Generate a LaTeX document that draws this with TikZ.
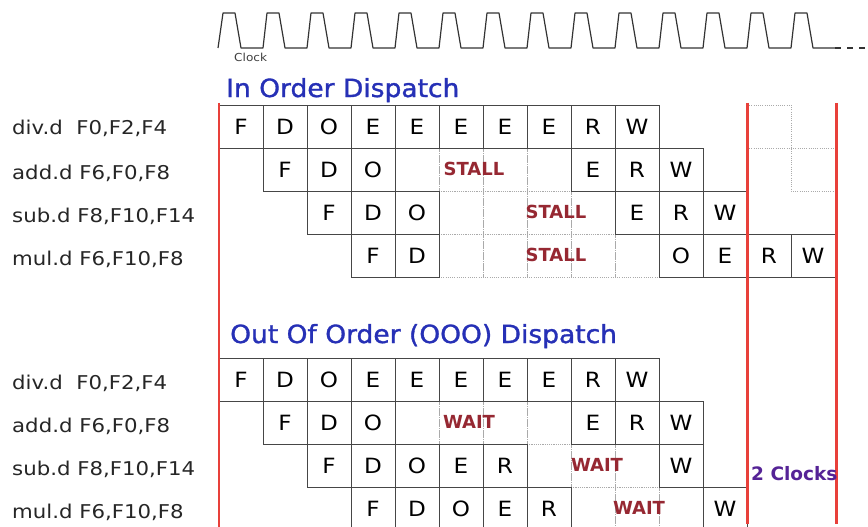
\documentclass[tikz,border=0pt]{standalone}
\usepackage{fontspec}
\setmainfont{DejaVu Sans}
\newfontfamily\ttlfam[FakeBold=1.2]{DejaVu Sans}
\usepackage{graphicx}
\definecolor{cellgray}{RGB}{70,70,70}
\definecolor{dotgray}{RGB}{170,170,170}
\definecolor{redl}{RGB}{232,64,58}
\definecolor{titleblue}{RGB}{38,48,182}
\definecolor{stallred}{RGB}{150,40,50}
\definecolor{clkpurple}{RGB}{85,35,150}
\newcommand\hs[2]{\scalebox{#1}[1]{#2}}
\newcommand\cellfont{\fontsize{21}{24}\selectfont}
\newcommand\lblfont{\fontsize{19}{22}\selectfont}
\newcommand\ttlfont{\ttlfam\fontsize{25}{28}\selectfont}
\newcommand\stfont{\fontsize{18}{20}\selectfont\bfseries}
\tikzset{
  cellbox/.style={draw=cellgray, line width=0.9pt, minimum width=44pt, minimum height=43pt, inner sep=0pt, outer sep=0pt, anchor=north west, font=\cellfont},
  fillbox/.style={draw=dotgray, line width=0.8pt, dash pattern=on 1pt off 1.2pt, minimum width=44pt, minimum height=43pt, inner sep=0pt, outer sep=0pt, anchor=north west},
  lbl/.style={anchor=base west, inner sep=0pt, font=\lblfont, text=black!85},
  ttl/.style={anchor=base west, inner sep=0pt, font=\ttlfont, text=titleblue},
  stalltxt/.style={inner sep=0pt, font=\stfont, text=stallred},
  redline/.style={draw=redl, line width=2.6pt},
  clockline/.style={draw=black!80, line width=1.2pt, line join=round},
  dotline/.style={draw=dotgray, line width=0.8pt, dash pattern=on 1pt off 1.2pt},
}
\begin{document}
\begin{tikzpicture}[x=1pt,y=-1pt]
\fill[white] (0,0) rectangle (868,527);
\useasboundingbox (0,0) rectangle (868,527);
% clock
\draw[clockline] (218,48) foreach \k in {0,...,13} { -- ({219+44*\k+4},13) -- ({219+44*\k+16},13) -- ({219+44*\k+22},48) -- ({219+44*\k+44},48) };
\coordinate (clkA) at (835,48);
\coordinate (clkB) at (868,48);
\draw[clockline, dash pattern=on 6pt off 6pt] (clkA) -- (clkB);
\node[anchor=base west, inner sep=0pt, font=\fontsize{11}{12}\selectfont, text=black!75] (clk) at (234,62) {\hs{1.1}{Clock}};
% titles
\node[ttl] (t1) at (226,97) {\hs{1.06}{In Order Dispatch}};
\node[ttl] (t2) at (230,343) {\hs{1.06}{Out Of Order (OOO) Dispatch}};
% labels in order
\node[lbl] (la1) at (12,135) {\hs{1.12}{div.d~~F0,F2,F4}};
\node[lbl] (la2) at (12,179) {\hs{1.12}{add.d F6,F0,F8}};
\node[lbl] (la3) at (12,222) {\hs{1.12}{sub.d F8,F10,F14}};
\node[lbl] (la4) at (12,265) {\hs{1.12}{mul.d F6,F10,F8}};
% labels OOO
\node[lbl] (lb1) at (12,389) {\hs{1.12}{div.d~~F0,F2,F4}};
\node[lbl] (lb2) at (12,432) {\hs{1.12}{add.d F6,F0,F8}};
\node[lbl] (lb3) at (12,475) {\hs{1.12}{sub.d F8,F10,F14}};
\node[lbl] (lb4) at (12,518) {\hs{1.12}{mul.d F6,F10,F8}};
% ---------- In order: fillers
\foreach \c in {4,...,7} \node[fillbox] (ia2f\c) at ({219+44*\c},148) {};
\foreach \c in {5,...,8} \node[fillbox] (ia3f\c) at ({219+44*\c},191) {};
\foreach \c in {5,...,9} \node[fillbox] (ia4f\c) at ({219+44*\c},234) {};
% top-right dotted grid
\coordinate (g1) at (747,105); \coordinate (g2) at (791,105);
\coordinate (g3) at (791,191); \coordinate (g4) at (835,191);
\coordinate (g5) at (747,148); \coordinate (g6) at (835,148);
\draw[dotline] (g1) -- (g2) -- (g3) -- (g4);
\draw[dotline] (g5) -- (g6);
% In order: cells
\foreach \c/\t in {0/F,1/D,2/O,3/E,4/E,5/E,6/E,7/E,8/R,9/W} \node[cellbox] (ia1c\c) at ({219+44*\c},105) {\hs{1.1}{\t}};
\foreach \c/\t in {1/F,2/D,3/O,8/E,9/R,10/W} \node[cellbox] (ia2c\c) at ({219+44*\c},148) {\hs{1.1}{\t}};
\foreach \c/\t in {2/F,3/D,4/O,9/E,10/R,11/W} \node[cellbox] (ia3c\c) at ({219+44*\c},191) {\hs{1.1}{\t}};
\foreach \c/\t in {3/F,4/D,10/O,11/E,12/R,13/W} \node[cellbox] (ia4c\c) at ({219+44*\c},234) {\hs{1.1}{\t}};
\node[stalltxt] (st1) at (474,169) {STALL};
\node[stalltxt] (st2) at (556,212) {STALL};
\node[stalltxt] (st3) at (556,255) {STALL};
% ---------- OOO: fillers
\foreach \c in {4,...,7} \node[fillbox] (ib2f\c) at ({219+44*\c},401) {};
\foreach \c in {7,...,9} \node[fillbox] (ib3f\c) at ({219+44*\c},444) {};
\foreach \c in {8,...,10} \node[fillbox] (ib4f\c) at ({219+44*\c},487) {};
% OOO: cells
\foreach \c/\t in {0/F,1/D,2/O,3/E,4/E,5/E,6/E,7/E,8/R,9/W} \node[cellbox] (ib1c\c) at ({219+44*\c},358) {\hs{1.1}{\t}};
\foreach \c/\t in {1/F,2/D,3/O,8/E,9/R,10/W} \node[cellbox] (ib2c\c) at ({219+44*\c},401) {\hs{1.1}{\t}};
\foreach \c/\t in {2/F,3/D,4/O,5/E,6/R,10/W} \node[cellbox] (ib3c\c) at ({219+44*\c},444) {\hs{1.1}{\t}};
\foreach \c/\t in {3/F,4/D,5/O,6/E,7/R,11/W} \node[cellbox] (ib4c\c) at ({219+44*\c},487) {\hs{1.1}{\t}};
\node[stalltxt] (wt1) at (469,422) {WAIT};
\node[stalltxt] (wt2) at (597,465) {WAIT};
\node[stalltxt] (wt3) at (639,508) {WAIT};
% red lines
\coordinate (r1t) at (219,103); \coordinate (r1b) at (219,530);
\coordinate (r2t) at (747.5,103); \coordinate (r2b) at (747.5,524);
\coordinate (r3t) at (836.5,103); \coordinate (r3b) at (836.5,524);
\draw[redline, line width=2.2pt] (r1t) -- (r1b);
\draw[redline] (r2t) -- (r2b);
\draw[redline] (r3t) -- (r3b);
\node[anchor=base west, inner sep=0pt, font=\fontsize{18.5}{20}\selectfont\bfseries, text=clkpurple] (twoclk) at (751,480) {2 Clocks};
\end{tikzpicture}
\end{document}
